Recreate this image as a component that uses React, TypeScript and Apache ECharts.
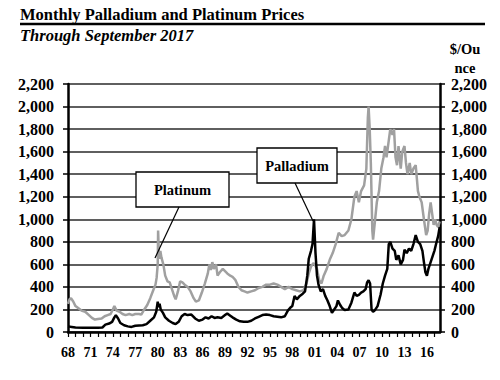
import React, { useEffect, useRef } from "react";
import * as echarts from "echarts";

const ptYears = [
  1968.0, 1968.2, 1968.4, 1968.7, 1969.0, 1969.4, 1969.8, 1970.3, 1970.8, 1971.2, 1971.6, 1972.0, 1972.5, 1972.9,
  1973.3, 1973.7, 1974.0, 1974.2, 1974.5, 1974.9, 1975.3, 1975.7, 1976.2, 1976.6, 1977.0, 1977.5, 1977.8, 1978.2,
  1978.6, 1979.0, 1979.4, 1979.7, 1979.85, 1980.0, 1980.05, 1980.15, 1980.25, 1980.35, 1980.5, 1980.75, 1981.0,
  1981.3, 1981.6, 1981.9, 1982.2, 1982.4, 1982.7, 1983.0, 1983.3, 1983.6, 1984.0, 1984.4, 1984.8, 1985.1, 1985.5,
  1985.9, 1986.3, 1986.7, 1986.9, 1987.1, 1987.3, 1987.5, 1987.8, 1988.0, 1988.3, 1988.7, 1989.0, 1989.3, 1989.7,
  1990.0, 1990.4, 1990.8, 1991.2, 1991.6, 1992.0, 1992.5, 1993.0, 1993.5, 1994.0, 1994.5, 1995.0, 1995.5, 1996.0,
  1996.5, 1997.0, 1997.5, 1998.0, 1998.5, 1999.0, 1999.5, 1999.9, 2000.2, 2000.5, 2000.8, 2001.0, 2001.3, 2001.6,
  2001.9, 2002.2, 2002.6, 2003.0, 2003.4, 2003.8, 2004.2, 2004.6, 2005.0, 2005.5, 2005.9, 2006.3, 2006.6, 2006.9,
  2007.2, 2007.6, 2007.9, 2008.1, 2008.2, 2008.35, 2008.5, 2008.7, 2008.8, 2009.0, 2009.3, 2009.6, 2009.9, 2010.2,
  2010.4, 2010.6, 2010.9, 2011.1, 2011.4, 2011.6, 2011.8, 2012.0, 2012.2, 2012.5, 2012.7, 2013.0, 2013.2, 2013.4,
  2013.7, 2013.9, 2014.2, 2014.5, 2014.8, 2015.0, 2015.3, 2015.6, 2015.9, 2016.1, 2016.3, 2016.5, 2016.7, 2016.9,
  2017.1, 2017.3, 2017.5, 2017.7,
];
const ptValues = [
  250, 290, 300, 270, 230, 210, 190, 180, 150, 125, 110, 115, 120, 140,
  150, 160, 200, 230, 190, 180, 160, 150, 160, 150, 160, 160, 155, 200,
  240, 300, 370, 420, 480, 600, 900, 700, 650, 720, 660, 600, 500,
  450, 440, 380, 320, 290, 360, 450, 440, 420, 400, 360, 300, 270, 280,
  350, 430, 520, 600, 550, 620, 560, 600, 500, 530, 560, 540, 520, 500,
  490, 460, 400, 370, 360, 350, 360, 370, 390, 400, 420, 420, 430, 420,
  400, 380, 400, 380, 370, 360, 370, 430, 520, 580, 610, 600, 560, 460,
  430, 500, 560, 640, 700, 780, 880, 850, 860, 900, 1000, 1200, 1250, 1150,
  1250, 1300, 1450, 1900, 2000, 1800, 1500, 900, 820, 950, 1150, 1250, 1450, 1550,
  1650, 1550, 1700, 1800, 1750, 1800, 1550, 1480, 1650, 1450, 1600, 1650, 1500, 1400,
  1500, 1400, 1450, 1480, 1250, 1200, 1150, 1000, 860, 900, 1050, 1150, 1050, 950,
  1000, 950, 930, 980,
];

const pdYears = [
  1968.0, 1968.5, 1969.0, 1970.0, 1971.0, 1972.0, 1972.6, 1973.0, 1973.5, 1973.9, 1974.2, 1974.4, 1974.7, 1975.0,
  1975.5, 1976.0, 1976.5, 1977.0, 1977.5, 1978.0, 1978.5, 1979.0, 1979.5, 1979.8, 1980.0, 1980.1, 1980.25, 1980.4,
  1980.7, 1981.0, 1981.5, 1982.0, 1982.4, 1982.8, 1983.2, 1983.6, 1984.0, 1984.5, 1985.0, 1985.5, 1986.0, 1986.4,
  1986.8, 1987.2, 1987.6, 1988.0, 1988.5, 1989.0, 1989.3, 1989.7, 1990.0, 1990.5, 1991.0, 1991.5, 1992.0, 1992.5,
  1993.0, 1993.5, 1994.0, 1994.5, 1995.0, 1995.5, 1996.0, 1996.5, 1997.0, 1997.4, 1997.8, 1998.0, 1998.3, 1998.6,
  1999.0, 1999.4, 1999.7, 2000.0, 2000.2, 2000.5, 2000.7, 2000.9, 2001.1, 2001.3, 2001.5, 2001.8, 2002.1, 2002.4,
  2002.7, 2003.0, 2003.3, 2003.6, 2003.9, 2004.1, 2004.4, 2004.7, 2005.0, 2005.5, 2005.9, 2006.3, 2006.6, 2006.9,
  2007.2, 2007.5, 2007.8, 2008.0, 2008.2, 2008.4, 2008.6, 2008.8, 2009.0, 2009.4, 2009.8, 2010.1, 2010.4, 2010.7,
  2010.9, 2011.1, 2011.4, 2011.7, 2011.9, 2012.2, 2012.5, 2012.8, 2013.0, 2013.3, 2013.6, 2013.9, 2014.2, 2014.5,
  2014.8, 2015.1, 2015.4, 2015.6, 2015.8, 2016.0, 2016.2, 2016.5, 2016.8, 2017.0, 2017.3, 2017.5, 2017.7,
];
const pdValues = [
  50, 45, 40, 38, 37, 38, 40, 65, 75, 90, 130, 150, 120, 80,
  60, 50, 45, 55, 58, 60, 70, 100, 130, 180, 270, 220, 250, 200,
  170, 130, 100, 80, 70, 90, 140, 160, 150, 155, 120, 100, 110, 130,
  120, 140, 125, 130, 125, 150, 165, 145, 130, 110, 95, 90, 90, 100,
  120, 135, 150, 155, 150, 140, 135, 130, 140, 190, 220, 230, 320, 290,
  320, 340, 360, 500, 650, 720, 780, 1000, 700, 500, 420, 360, 380, 320,
  280, 230, 170, 200, 230, 280, 240, 210, 195, 200, 260, 350, 320, 330,
  350, 360, 380, 440, 460, 430, 200, 180, 190, 230, 330, 430, 500, 560,
  780, 800, 740, 720, 640, 680, 600, 640, 730, 700, 740, 720, 780, 860,
  800, 780, 720, 620, 530, 500, 560, 620, 680, 720, 800, 850, 930,
];

const yTicks = [0, 200, 400, 600, 800, 1000, 1200, 1400, 1600, 1800, 2000, 2200];
const xLabelYears = [1968, 1971, 1974, 1977, 1980, 1983, 1986, 1989, 1992, 1995, 1998, 2001, 2004, 2007, 2010, 2013, 2016];

const SERIF = '"Liberation Serif", "Times New Roman", serif';

export default function App() {
  const ref = useRef<HTMLDivElement>(null);
  useEffect(() => {
    if (!ref.current) return;
    document.body.style.margin = "0";
    const chart = echarts.init(ref.current, undefined, { renderer: "svg" });
    const fmtY = (v: number) => (yTicks.includes(v) ? v.toLocaleString("en-US") : "");
    const yAxisCommon = {
      type: "value" as const,
      min: 0,
      max: 2200,
      interval: 200,
      axisLine: { show: true, lineStyle: { color: "#000", width: 2.5 } },
      axisTick: { show: true, length: 5, lineStyle: { color: "#000", width: 1.5 } },
      axisLabel: {
        fontFamily: SERIF,
        fontWeight: "bold" as const,
        fontSize: 16,
        color: "#000",
        formatter: fmtY,
      },
    };
    chart.setOption({
      animation: false,
      backgroundColor: "#fff",
      grid: { left: 68, right: 60, top: 84, bottom: 48, containLabel: false },
      xAxis: {
        type: "value",
        min: 1968,
        max: 2017.75,
        interval: 1,
        axisLine: { show: true, onZero: false, lineStyle: { color: "#000", width: 2.5 } },
        axisTick: { show: true, length: 5, lineStyle: { color: "#000", width: 1.2 } },
        splitLine: { show: false },
        axisLabel: {
          fontFamily: SERIF,
          fontWeight: "bold",
          fontSize: 14,
          color: "#000",
          margin: 13,
          showMaxLabel: false,
          formatter: (v: number) => {
            const r = Math.round(v);
            if (Math.abs(v - r) > 1e-6 || !xLabelYears.includes(r)) return "";
            return String(r % 100).padStart(2, "0");
          },
        },
      },
      yAxis: [
        {
          ...yAxisCommon,
          position: "left",
          axisLabel: { ...yAxisCommon.axisLabel, margin: 14 },
          splitLine: { show: true, lineStyle: { color: "#2a2a2a", width: 1.5 } },
        },
        {
          ...yAxisCommon,
          position: "right",
          axisLabel: { ...yAxisCommon.axisLabel, margin: 11 },
          splitLine: { show: false },
        },
      ],
      series: [
        {
          name: "Platinum",
          type: "line",
          showSymbol: false,
          data: ptYears.map((y, i) => [y, ptValues[i]]),
          lineStyle: { color: "#a0a0a0", width: 2.5 },
          itemStyle: { color: "#a0a0a0" },
          z: 3,
        },
        {
          name: "Palladium",
          type: "line",
          showSymbol: false,
          data: pdYears.map((y, i) => [y, pdValues[i]]),
          lineStyle: { color: "#000", width: 2.5 },
          itemStyle: { color: "#000" },
          z: 4,
        },
      ],
      graphic: [
        {
          type: "text",
          x: 20,
          y: 6,
          style: {
            text: "Monthly Palladium and Platinum Prices",
            fontFamily: SERIF,
            fontWeight: "bold",
            fontSize: 16.5,
            fill: "#000",
          },
        },
        {
          type: "line",
          shape: { x1: 20, y1: 24, x2: 485, y2: 24 },
          style: { stroke: "#000", lineWidth: 2.5 },
        },
        {
          type: "text",
          x: 20,
          y: 27,
          style: {
            text: "Through September 2017",
            fontFamily: SERIF,
            fontWeight: "bold",
            fontStyle: "italic",
            fontSize: 16.5,
            fill: "#000",
          },
        },
        {
          type: "text",
          x: 465,
          y: 39,
          style: {
            text: "$/Ou\nnce",
            fontFamily: SERIF,
            fontWeight: "bold",
            fontSize: 14.5,
            lineHeight: 19,
            fill: "#000",
            align: "center",
          },
        },
        {
          type: "rect",
          shape: { x: 136, y: 172, width: 93, height: 35 },
          style: { fill: "#fff", stroke: "#000", lineWidth: 1.3 },
          z: 10,
        },
        {
          type: "text",
          x: 182.5,
          y: 189.5,
          style: {
            text: "Platinum",
            fontFamily: SERIF,
            fontWeight: "bold",
            fontSize: 14.5,
            fill: "#000",
            align: "center",
            verticalAlign: "middle",
          },
          z: 11,
        },
        {
          type: "line",
          shape: { x1: 179, y1: 207, x2: 155, y2: 258 },
          style: { stroke: "#000", lineWidth: 1.2 },
          z: 10,
        },
        {
          type: "rect",
          shape: { x: 257, y: 148, width: 80, height: 35 },
          style: { fill: "#fff", stroke: "#000", lineWidth: 1.3 },
          z: 10,
        },
        {
          type: "text",
          x: 297,
          y: 165.5,
          style: {
            text: "Palladium",
            fontFamily: SERIF,
            fontWeight: "bold",
            fontSize: 14.5,
            fill: "#000",
            align: "center",
            verticalAlign: "middle",
          },
          z: 11,
        },
        {
          type: "line",
          shape: { x1: 295, y1: 183, x2: 313, y2: 221 },
          style: { stroke: "#000", lineWidth: 1.2 },
          z: 10,
        },
      ],
    });
    return () => chart.dispose();
  }, []);
  return <div ref={ref} style={{ width: 500, height: 380 }} />;
}
